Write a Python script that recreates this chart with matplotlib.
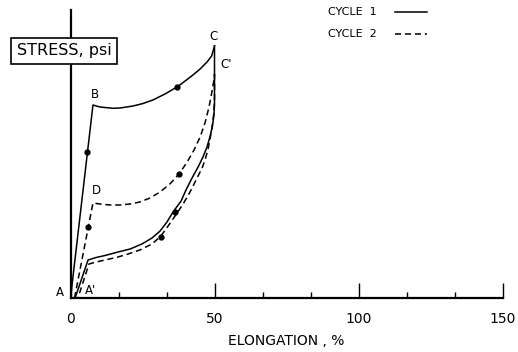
import matplotlib
matplotlib.use("Agg")
import matplotlib.pyplot as plt
from matplotlib.lines import Line2D
from matplotlib.ticker import MultipleLocator

# cycle 1 (solid): loading A -> B -> C
c1_load_x = [0, 7.8, 10.2, 14.8, 17.2, 21.7, 25.2, 28.6, 32.8, 37.0, 39.8, 42.5, 45.0, 47.4, 49.0, 50]
c1_load_y = [0, 193, 191, 189.7, 190, 192, 194.5, 198, 204, 211, 217, 223, 229, 236, 242, 252]
# cycle 1 unloading C -> C' -> A'
c1_unl_x = [50, 50, 49.8, 49.3, 48.4, 47.4, 46.0, 44.3, 42.2, 40.1, 38.4, 35.6, 33.5, 31.1, 28.3,
            24.8, 20.7, 16.5, 12.0, 8.9, 6.1, 1.6]
c1_unl_y = [252, 193, 183, 172, 161, 151, 141, 131, 120, 108, 97, 86, 76, 67, 60,
            54, 49, 46, 42.5, 40.5, 38, 0]

# cycle 2 (dashed): loading A' -> D -> C'
c2_load_x = [1.4, 7.8, 10.2, 13.7, 17.2, 20.7, 24.1, 27.6, 31.1, 34.5, 37.7, 40.5, 42.9, 45.0,
             46.7, 48.1, 49.1, 49.8, 50]
c2_load_y = [0, 95, 94, 93, 93, 94, 96, 100, 106, 114, 124, 136, 148, 161,
             175, 191, 206, 218, 224]
# cycle 2 unloading
c2_unl_x = [50, 50, 49.7, 49.1, 48.4, 47.7, 46.7, 45.7, 43.6, 41.5, 39.1, 36.3, 33.9, 31.4, 28.3,
            24.1, 20.0, 16.5, 12.0, 8.9, 6.4, 2.6]
c2_unl_y = [224, 198, 183, 170, 158, 148, 138, 130, 118, 106, 94, 82, 72, 62, 54,
            48, 44, 41, 38, 36, 34, 0]

# arrow dots on the curves
dots_solid_x = [5.7, 37.0, 36.3]
dots_solid_y = [146, 211, 86]
dots_dash_x = [6.0, 37.7, 31.4]
dots_dash_y = [71, 124, 61]

# point labels
pt_names = ["A", "A'", "B", "C", "C'", "D"]
pt_x = [-3.6, 7.0, 8.5, 49.8, 54.0, 8.9]
pt_y = [5, 8, 203, 261, 233, 107]

x_ticks = [0, 50, 100, 150]

fig = plt.figure(figsize=(5.18, 3.52), dpi=100)
ax = fig.add_axes([70.5 / 518, 54 / 352, (502.5 - 70.5) / 518, (298 - 10) / 352])
ax.set_xlim(0, 150)
ax.set_ylim(0, 288)

ax.plot(c1_load_x, c1_load_y, color="black", lw=1.1)
ax.plot(c1_unl_x, c1_unl_y, color="black", lw=1.1)
ax.plot(c2_load_x, c2_load_y, color="black", lw=1.1, dashes=(4, 2.5))
ax.plot(c2_unl_x, c2_unl_y, color="black", lw=1.1, dashes=(4, 2.5))
ax.plot(dots_solid_x, dots_solid_y, "o", color="black", ms=3.5)
ax.plot(dots_dash_x, dots_dash_y, "o", color="black", ms=3.5)

for n, x, y in zip(pt_names, pt_x, pt_y):
    ax.text(x, y, n, fontsize=8.5, ha="center", va="center", clip_on=False)

ax.spines["top"].set_visible(False)
ax.spines["right"].set_visible(False)
ax.spines["left"].set_linewidth(1.6)
ax.spines["bottom"].set_linewidth(1.6)
ax.set_yticks([])
ax.set_xticks(x_ticks)
ax.set_xticklabels([str(t) for t in x_ticks], fontsize=10)
ax.xaxis.set_minor_locator(MultipleLocator(50 / 3))
ax.tick_params(axis="x", which="major", direction="in", length=11, width=1, pad=10)
ax.tick_params(axis="x", which="minor", direction="in", length=4, width=1)
ax.set_xlabel("ELONGATION , %", fontsize=10, labelpad=6)

# y label box over the axis
fig.text(64 / 518, 1 - 51 / 352, "STRESS, psi", fontsize=11.5, ha="center", va="center",
         bbox=dict(boxstyle="square,pad=0.35", fc="white", ec="black", lw=1.2))

# legend
fig.text(328 / 518, 1 - 12 / 352, "CYCLE  1", fontsize=8, ha="left", va="center")
fig.text(328 / 518, 1 - 34 / 352, "CYCLE  2", fontsize=8, ha="left", va="center")
fig.add_artist(Line2D([395 / 518, 427 / 518], [1 - 12 / 352] * 2, color="black", lw=1.1))
fig.add_artist(Line2D([395 / 518, 427 / 518], [1 - 34 / 352] * 2, color="black", lw=1.1,
                      dashes=(4, 2.5)))

fig.savefig("out.png", dpi=100)
